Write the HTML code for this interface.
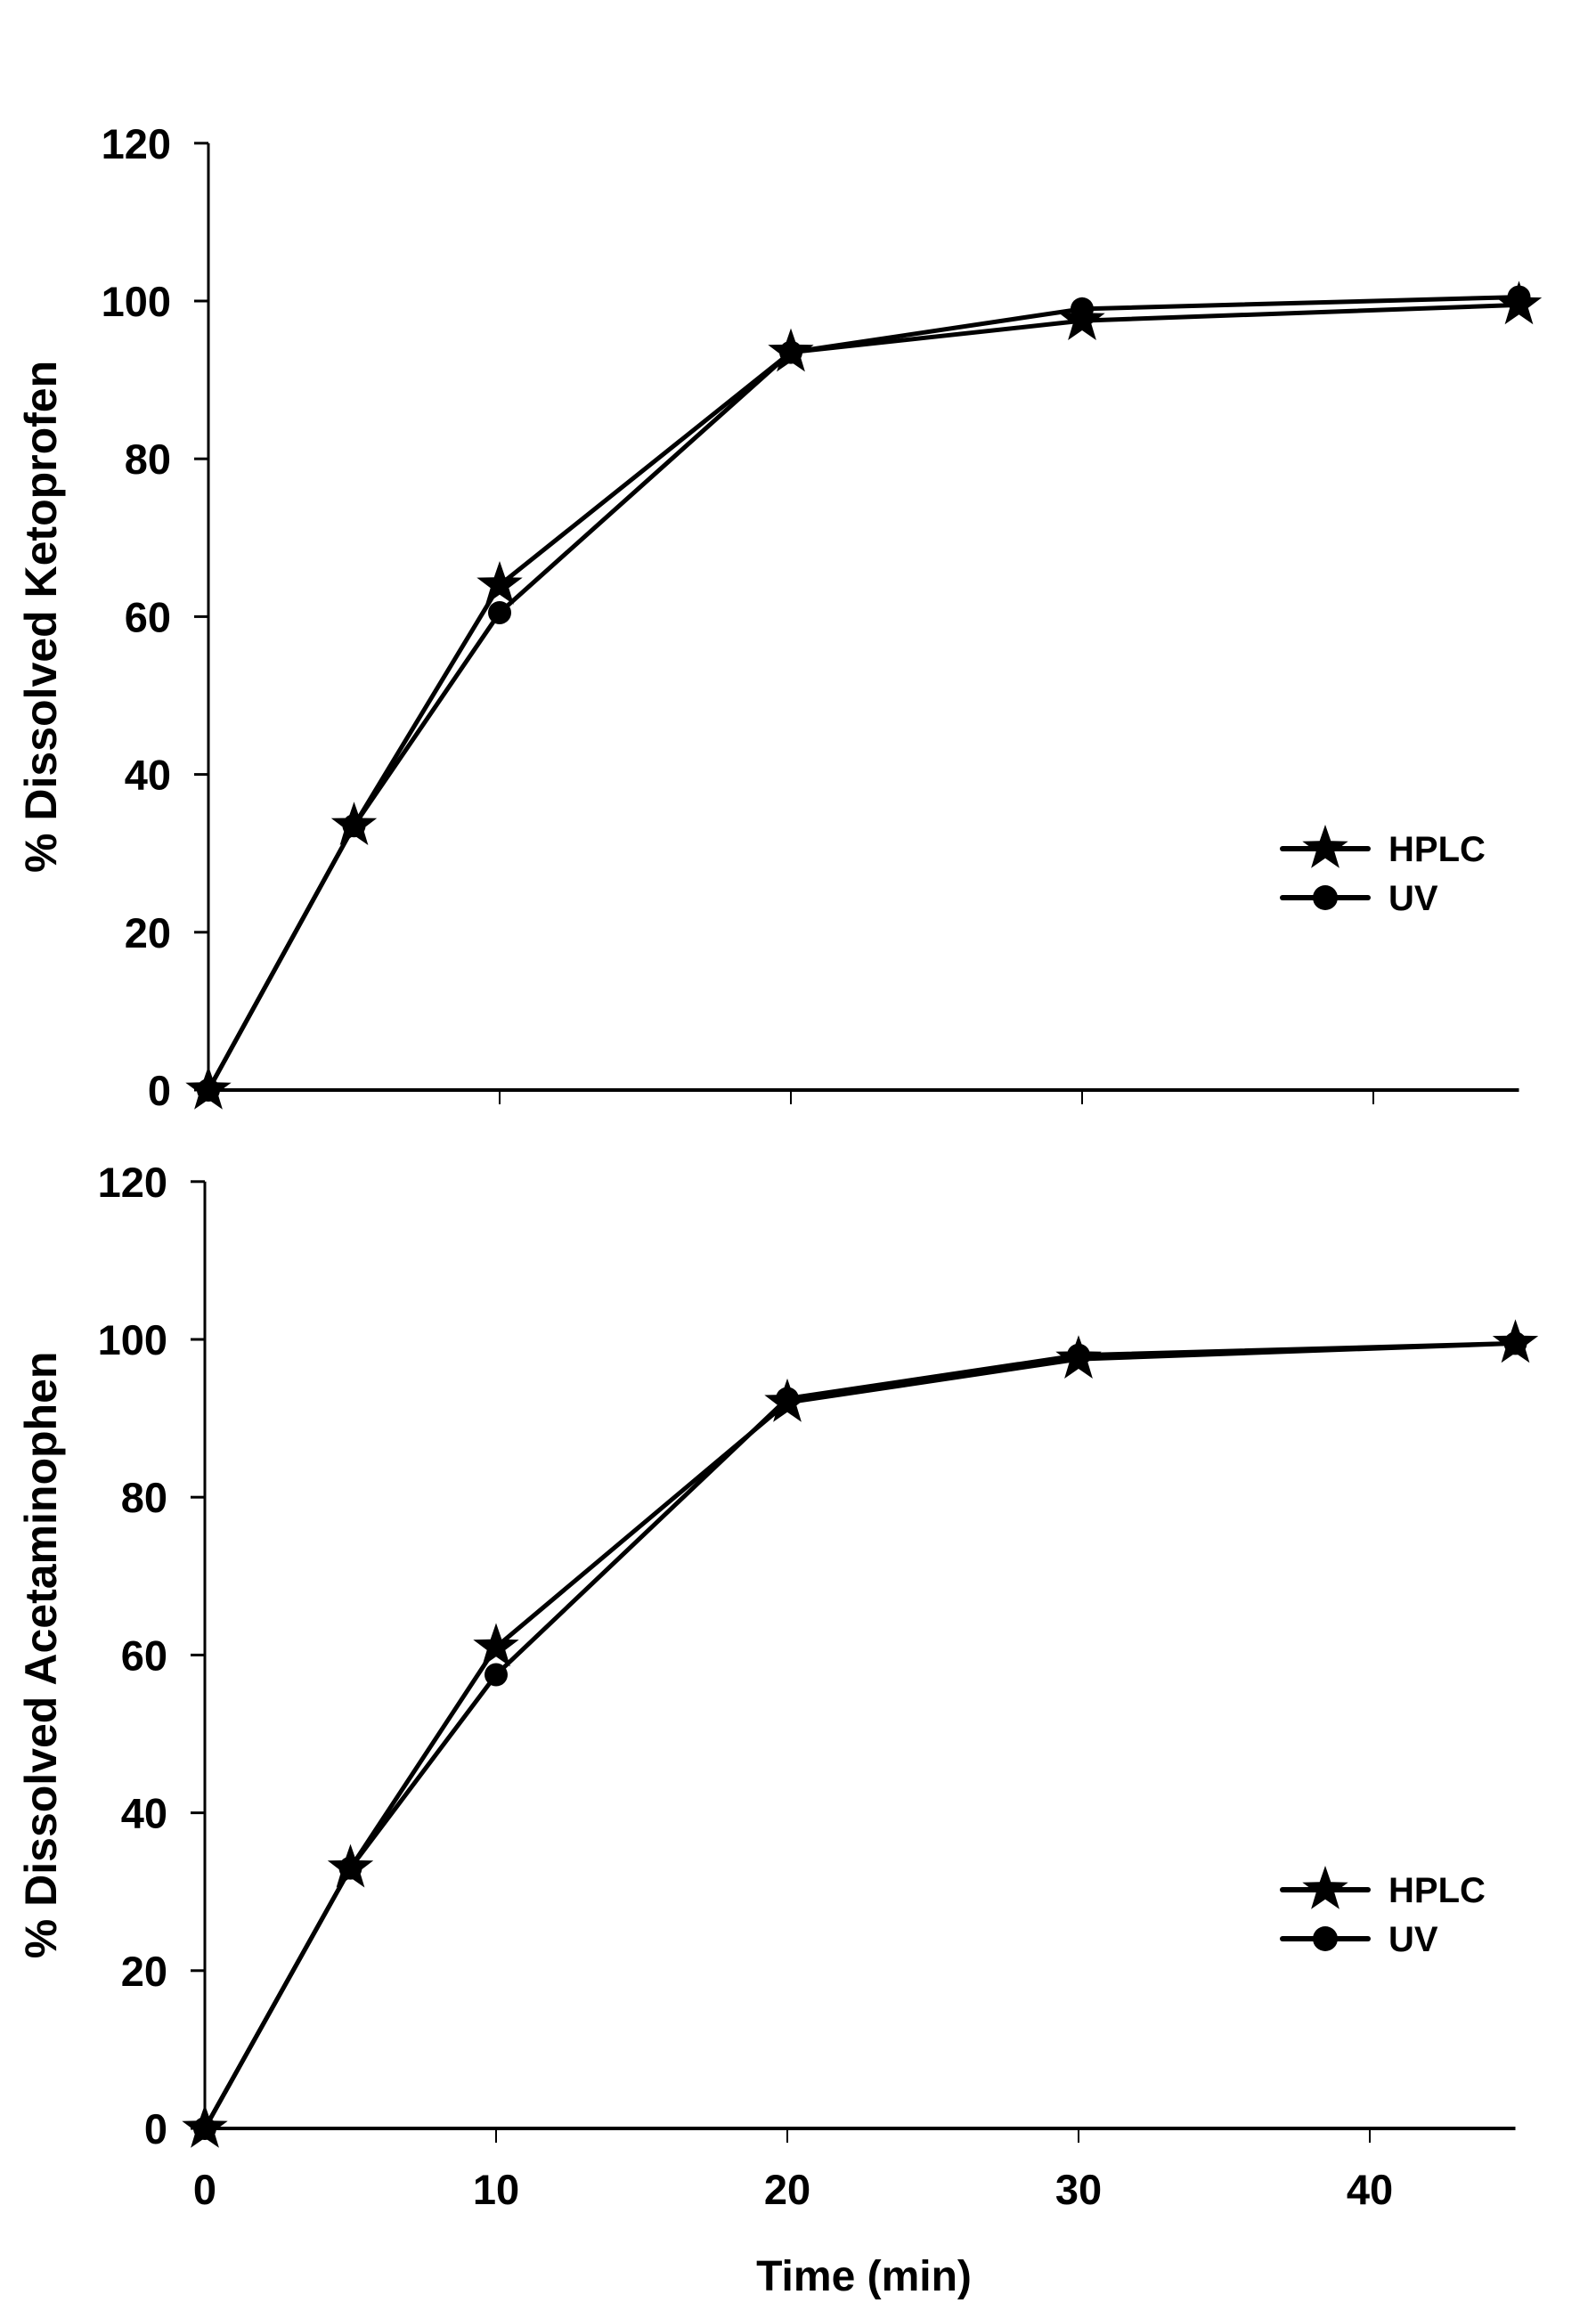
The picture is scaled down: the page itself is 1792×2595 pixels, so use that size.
<!DOCTYPE html>
<html><head><meta charset="utf-8"><style>
html,body{margin:0;padding:0;background:#fff}
svg{display:block}
text{font-family:"Liberation Sans",Arial,sans-serif;font-weight:bold;fill:#000}
</style></head><body>
<svg id="chart" width="1792" height="2595" viewBox="0 0 1792 2595" xmlns="http://www.w3.org/2000/svg"></svg>
<script>
const times = [0, 5, 10, 20, 30, 45];
const ketoHPLC = [0, 33.5, 64, 93.5, 97.5, 99.5];
const ketoUV = [0, 33.5, 60.5, 93.5, 99, 100.5];
const acetHPLC = [0, 33, 61, 92, 97.5, 99.5];
const acetUV = [0, 33, 57.5, 92.5, 98, 99.5];
const yTicks = [0, 20, 40, 60, 80, 100, 120];
const xTicks = [0, 10, 20, 30, 40];
const legendLabels = ["HPLC", "UV"];

const NS = "http://www.w3.org/2000/svg";
const svg = document.getElementById("chart");
function mk(tag, attrs, parent) {
  const e = document.createElementNS(NS, tag);
  for (const k in attrs) e.setAttribute(k, attrs[k]);
  (parent || svg).appendChild(e);
  return e;
}
function starPts(cx, cy, R) {
  const r = R * 0.4; let p = [];
  for (let i = 0; i < 10; i++) {
    const a = -Math.PI / 2 + i * Math.PI / 5, rr = i % 2 ? r : R;
    p.push((cx + rr * Math.cos(a)).toFixed(1) + "," + (cy + rr * Math.sin(a)).toFixed(1));
  }
  return p.join(" ");
}
function panel(cfg) {
  const g = mk("g", {});
  
  
  const x = v => cfg.x0 + v * 32.7;
  const y = v => cfg.y0 - v * 8.86;
  const ya = mk("line", {x1: cfg.x0, y1: y(120), x2: cfg.x0, y2: cfg.y0, stroke: "#000", "stroke-width": 3}, g);
  
  
  const xa = mk("line", {x1: cfg.x0, y1: cfg.y0, x2: x(45), y2: cfg.y0, stroke: "#000", "stroke-width": 4}, g);
  
  
  yTicks.forEach(t => {
    mk("line", {x1: cfg.x0 - 16, y1: y(t), x2: cfg.x0, y2: y(t), stroke: "#000", "stroke-width": 3}, g);
    const tx = mk("text", {x: cfg.x0 - 42, y: y(t) + 17, "text-anchor": "end", "font-size": 47}, g);
    tx.textContent = t;
    
    
  });
  xTicks.forEach(t => {
    if (t > 0) mk("line", {x1: x(t), y1: cfg.y0, x2: x(t), y2: cfg.y0 + 16, stroke: "#000", "stroke-width": 2}, g);
    if (cfg.xlabels) {
      const tx = mk("text", {x: x(t), y: cfg.y0 + 85, "text-anchor": "middle", "font-size": 47}, g);
      tx.textContent = t;
      
      
    }
  });
  const yt = mk("text", {x: 0, y: 0, "text-anchor": "middle", "font-size": 50, transform: `translate(63,${y(60)}) rotate(-90)`}, g);
  yt.textContent = cfg.ytitle;
  
  
  [[cfg.uv, "circle"], [cfg.hplc, "star"]].forEach(([data, m]) => {
    const pl = mk("polyline", {points: times.map((t, i) => x(t) + "," + y(data[i])).join(" "), fill: "none", stroke: "#000", "stroke-width": 5, "stroke-linejoin": "round"}, g);
    
    
    times.forEach((t, i) => {
      let e;
      if (m === "star") e = mk("polygon", {points: starPts(x(t), y(data[i]), 27), fill: "#000"}, g);
      else e = mk("circle", {cx: x(t), cy: y(data[i]), r: 13, fill: "#000"}, g);
      
      
    });
  });
  legendLabels.forEach((lab, i) => {
    const ly = cfg.legY + i * 55;
    const lg = mk("g", {}, g);
    
    
    mk("line", {x1: 1440, y1: ly, x2: 1536, y2: ly, stroke: "#000", "stroke-width": 6, "stroke-linecap": "round"}, lg);
    if (i === 0) mk("polygon", {points: starPts(1488, ly, 27), fill: "#000"}, lg);
    else mk("circle", {cx: 1488, cy: ly, r: 14, fill: "#000"}, lg);
    const tx = mk("text", {x: 1559, y: ly + 14, "font-size": 40}, lg);
    tx.textContent = lab;
  });
}
panel({name: "ketoprofen-panel", x0: 234, y0: 1224, ytitle: "% Dissolved Ketoprofen", hplc: ketoHPLC, uv: ketoUV, legY: 953, xlabels: false});
panel({name: "acetaminophen-panel", x0: 230, y0: 2390, ytitle: "% Dissolved Acetaminophen", hplc: acetHPLC, uv: acetUV, legY: 2122, xlabels: true});
const xt = mk("text", {x: 970, y: 2572, "text-anchor": "middle", "font-size": 48});
xt.textContent = "Time (min)";


</script>
</body></html>
